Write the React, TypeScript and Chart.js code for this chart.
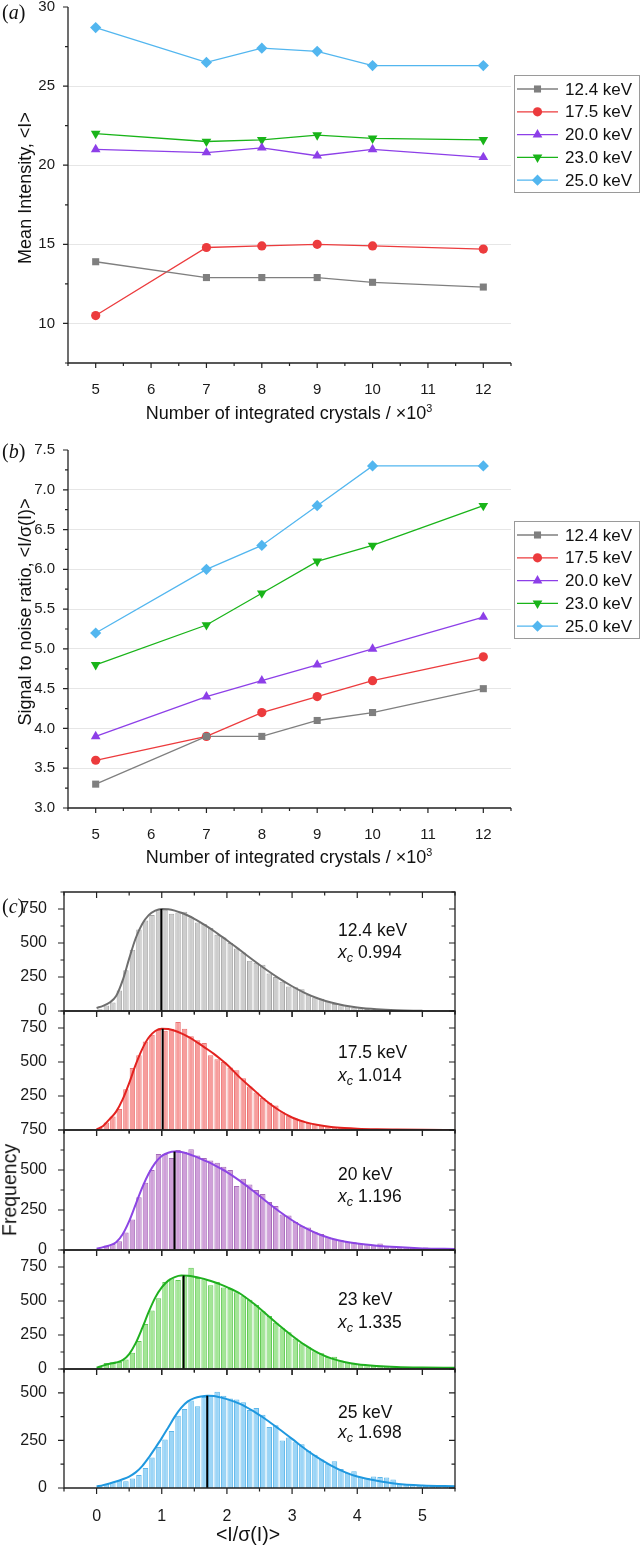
import React, { useEffect, useRef } from 'react';
import { Chart, registerables } from 'chart.js';

Chart.register(...registerables);

const SANS = "'Liberation Sans', Arial, Helvetica, sans-serif";
const SERIF = "'Liberation Serif', 'Times New Roman', Times, serif";
Chart.defaults.font.family = SANS;

// ================= Panels (a) and (b) =================
const CRYSTALS = [5, 7, 8, 9, 10, 12];
const X_TICKS = [5, 6, 7, 8, 9, 10, 11, 12];
const ENERGY_LABELS = ['12.4 keV', '17.5 keV', '20.0 keV', '23.0 keV', '25.0 keV'];

const MEAN_I_124 = [13.9, 12.9, 12.9, 12.9, 12.6, 12.3];
const MEAN_I_175 = [10.5, 14.8, 14.9, 15.0, 14.9, 14.7];
const MEAN_I_200 = [21.0, 20.8, 21.1, 20.6, 21.0, 20.5];
const MEAN_I_230 = [22.0, 21.5, 21.6, 21.9, 21.7, 21.6];
const MEAN_I_250 = [28.7, 26.5, 27.4, 27.2, 26.3, 26.3];

const SNR_124 = [3.3, 3.9, 3.9, 4.1, 4.2, 4.5];
const SNR_175 = [3.6, 3.9, 4.2, 4.4, 4.6, 4.9];
const SNR_200 = [3.9, 4.4, 4.6, 4.8, 5.0, 5.4];
const SNR_230 = [4.8, 5.3, 5.7, 6.1, 6.3, 6.8];
const SNR_250 = [5.2, 6.0, 6.3, 6.8, 7.3, 7.3];

const Y_TICKS_A = [10, 15, 20, 25, 30];
const Y_TICKS_B = [3.0, 3.5, 4.0, 4.5, 5.0, 5.5, 6.0, 6.5, 7.0, 7.5];

const SERIES_COLORS = ['#7f7f7f', '#ec3b3d', '#8d3fe8', '#19b419', '#52b6ef'];
const SERIES_POINTS = ['rect', 'circle', 'triangle', 'triangle', 'rectRot'];
const SERIES_ROT = [0, 0, 0, 180, 0];
const SERIES_RADIUS = [5, 4.6, 5.6, 5.6, 5.6];

// ================= Panel (c) histograms =================
const HIST_LABELS = ['12.4 keV', '17.5 keV', '20 keV', '23 keV', '25 keV'];
const XC = [0.994, 1.014, 1.196, 1.335, 1.698];
const XC_TOP = [750, 745, 615, 687, 485];
const HIST_X_TICKS = [0, 1, 2, 3, 4, 5];
const HIST_Y_MAJOR = [0, 250, 500, 750];
const HIST_Y_LABELS = [
  [0, 250, 500, 750],
  [250, 500, 750],
  [0, 250, 500, 750],
  [0, 250, 500, 750],
  [0, 250, 500],
];
const HIST_Y_MAX = [875, 875, 750, 875, 625];

const BIN_CENTERS = [
  0.05, 0.15, 0.25, 0.35, 0.45, 0.55, 0.65, 0.75, 0.85, 0.95,
  1.05, 1.15, 1.25, 1.35, 1.45, 1.55, 1.65, 1.75, 1.85, 1.95,
  2.05, 2.15, 2.25, 2.35, 2.45, 2.55, 2.65, 2.75, 2.85, 2.95,
  3.05, 3.15, 3.25, 3.35, 3.45, 3.55, 3.65, 3.75, 3.85, 3.95,
  4.05, 4.15, 4.25, 4.35, 4.45, 4.55, 4.65, 4.75, 4.85, 4.95,
  5.05, 5.15, 5.25, 5.35, 5.45,
];

const FREQ_124 = [
  12, 40, 62, 150, 300, 450, 600, 665, 705, 740,
  745, 715, 725, 730, 690, 650, 640, 610, 560, 540,
  500, 460, 430, 370, 355, 340, 275, 250, 215, 180,
  175, 160, 120, 100, 90, 70, 52, 42, 35, 25,
  20, 15, 10, 8, 5, 3, 2, 2, 1, 1,
  0, 0, 0, 0, 0,
];
const FREQ_175 = [
  15, 55, 100, 155, 300, 455, 550, 650, 700, 735,
  730, 745, 795, 745, 690, 660, 640, 550, 520, 500,
  460, 440, 380, 320, 275, 235, 200, 180, 130, 105,
  85, 70, 52, 40, 34, 26, 20, 16, 12, 10,
  8, 7, 6, 5, 4, 3, 3, 2, 2, 1,
  1, 1, 0, 0, 0,
];
const FREQ_200 = [
  10, 28, 38, 55, 110, 190, 330, 420, 500, 600,
  600, 575, 625, 612, 630, 590, 575, 560, 545, 520,
  500, 400, 445, 410, 375, 350, 300, 275, 222, 215,
  175, 150, 140, 112, 100, 80, 70, 62, 52, 48,
  40, 36, 32, 40, 25, 22, 20, 16, 14, 12,
  15, 9, 7, 6, 5,
];
const FREQ_230 = [
  15, 45, 50, 52, 70, 120, 205, 330, 430, 520,
  640, 665, 655, 680, 745, 670, 660, 615, 640, 600,
  590, 565, 535, 510, 470, 425, 390, 340, 300, 270,
  225, 190, 160, 130, 115, 88, 90, 62, 50, 40,
  35, 28, 25, 20, 22, 18, 15, 12, 14, 10,
  10, 8, 8, 7, 6,
];
const FREQ_250 = [
  12, 21, 30, 38, 35, 50, 68, 105, 160, 215,
  255, 300, 380, 415, 460, 430, 478, 490, 505, 485,
  470, 465, 450, 410, 420, 385, 320, 330, 250, 265,
  240, 230, 195, 175, 150, 128, 140, 100, 80, 88,
  57, 52, 60, 58, 55, 45, 22, 18, 15, 12,
  12, 10, 10, 10, 8,
];

const FIT_X = [
  0, 0.1, 0.2, 0.3, 0.4, 0.5, 0.6, 0.7, 0.8, 0.9,
  1.0, 1.1, 1.2, 1.3, 1.4, 1.5, 1.6, 1.7, 1.8, 1.9,
  2.0, 2.2, 2.4, 2.6, 2.8,
  3.0, 3.2, 3.4, 3.6, 3.8,
  4.0, 4.3, 4.6, 5.0, 5.5,
];
const FIT_124 = [
  22, 38, 62, 110, 225, 385, 535, 640, 705, 738,
  750, 748, 738, 722, 702, 678, 650, 620, 588, 554,
  520, 448, 375, 305, 240,
  182, 132, 92, 62, 40,
  25, 12, 5, 1, null,
];
const FIT_175 = [
  5, 30, 80, 135, 225, 345, 480, 595, 680, 728,
  745, 742, 730, 710, 686, 658, 626, 594, 560, 522,
  482, 385, 300, 215, 145,
  92, 58, 36, 22, 14,
  9, 5, 3, 1, 0,
];
const FIT_200 = [
  8, 18, 29, 48, 98, 180, 285, 390, 478, 545,
  588, 608, 615, 613, 602, 587, 570, 552, 532, 510,
  487, 432, 370, 305, 242,
  186, 138, 100, 72, 53,
  40, 27, 18, 10, 6,
];
const FIT_230 = [
  10, 25, 38, 48, 65, 110, 190, 300, 420, 525,
  600, 650, 676, 687, 686, 679, 668, 655, 640, 622,
  602, 555, 485, 405, 322,
  245, 175, 118, 78, 52,
  35, 22, 15, 11, 9,
];
const FIT_250 = [
  8, 15, 24, 34, 46, 60, 82, 115, 160, 210,
  262, 318, 375, 422, 455, 472, 481, 485, 483, 476,
  467, 442, 405, 360, 310,
  258, 205, 158, 118, 85,
  60, 38, 22, 13, 9,
];

const HIST_FREQ = [FREQ_124, FREQ_175, FREQ_200, FREQ_230, FREQ_250];
const HIST_FIT = [FIT_124, FIT_175, FIT_200, FIT_230, FIT_250];
const HIST_FILL = ['#cdcdcd', '#f79d9c', '#cf9fd9', '#a3e696', '#9bd5f7'];
const HIST_EDGE = ['#a6a6a6', '#ec7372', '#a66bb9', '#62c955', '#5db7ea'];
const HIST_LINE = ['#6e6e6e', '#e3221f', '#8c45e4', '#1fb01f', '#1f98df'];

// layout of histogram panels (page y of plot top / bottom)
const HIST_TOP = [892, 1011, 1130, 1250, 1369];
const HIST_BOTTOM = [1011, 1130, 1250, 1369, 1488];
const ANNOT_Y1 = [931, 1053, 1175, 1300, 1413];
const ANNOT_Y2 = [953, 1076, 1197, 1323, 1433];

// ================= helpers =================
function tickMarks(majors: number[], half: number, lo: number, hi: number) {
  const out: { v: number; major: boolean }[] = [];
  for (let v = lo; v <= hi + 1e-9; v += half) {
    out.push({ v, major: majors.some((m) => Math.abs(m - v) < 1e-6) });
  }
  return out;
}

function drawMarker(ctx: CanvasRenderingContext2D, style: string, x: number, y: number, r: number, rot: number, color: string) {
  ctx.save();
  ctx.fillStyle = color;
  ctx.translate(x, y);
  ctx.rotate((rot * Math.PI) / 180);
  ctx.beginPath();
  if (style === 'rect') {
    const s = r * Math.SQRT1_2;
    ctx.rect(-s, -s, 2 * s, 2 * s);
  } else if (style === 'circle') {
    ctx.arc(0, 0, r, 0, Math.PI * 2);
  } else if (style === 'triangle') {
    for (let k = 0; k < 3; k++) {
      const a = (k * 2 * Math.PI) / 3;
      const px = Math.sin(a) * r;
      const py = -Math.cos(a) * r;
      if (k === 0) ctx.moveTo(px, py);
      else ctx.lineTo(px, py);
    }
    ctx.closePath();
  } else {
    ctx.moveTo(0, -r);
    ctx.lineTo(r, 0);
    ctx.lineTo(0, r);
    ctx.lineTo(-r, 0);
    ctx.closePath();
  }
  ctx.fill();
  ctx.restore();
}

const frameTicks = {
  id: 'frameTicks',
  afterDraw(chart: any, _args: any, o: any) {
    const { ctx, chartArea: a } = chart;
    const xs = chart.scales.x;
    const ys = chart.scales.y;
    ctx.save();
    ctx.strokeStyle = '#222';
    ctx.lineWidth = 1.3;
    ctx.beginPath();
    if (o.box) {
      ctx.rect(a.left, a.top, a.right - a.left, a.bottom - a.top);
    } else {
      ctx.moveTo(a.left, a.top);
      ctx.lineTo(a.left, a.bottom);
      ctx.lineTo(a.right, a.bottom);
    }
    ctx.stroke();
    ctx.lineWidth = 1.2;
    ctx.beginPath();
    for (const t of o.xTicks) {
      const px = xs.getPixelForValue(t.v);
      const len = t.major ? o.majorLen : o.minorLen;
      ctx.moveTo(px, a.bottom);
      ctx.lineTo(px, a.bottom + len);
      if (o.box) {
        ctx.moveTo(px, a.top);
        ctx.lineTo(px, a.top + len);
      }
    }
    for (const t of o.yTicks) {
      const py = ys.getPixelForValue(t.v);
      const len = t.major ? o.majorLen : o.minorLen;
      ctx.moveTo(a.left, py);
      ctx.lineTo(a.left - len, py);
      if (o.box) {
        ctx.moveTo(a.right, py);
        ctx.lineTo(a.right - len, py);
      }
    }
    ctx.stroke();
    ctx.restore();
  },
};

const boxLegend = {
  id: 'boxLegend',
  afterDraw(chart: any, _args: any, o: any) {
    const { ctx } = chart;
    ctx.save();
    ctx.strokeStyle = '#9a9a9a';
    ctx.lineWidth = 1;
    ctx.strokeRect(o.left + 0.5, o.top + 0.5, o.width, o.height);
    chart.data.datasets.forEach((ds: any, i: number) => {
      const y = o.top + o.firstRow + i * o.rowGap;
      ctx.strokeStyle = ds.borderColor;
      ctx.lineWidth = 1.3;
      ctx.beginPath();
      ctx.moveTo(o.left + 3, y);
      ctx.lineTo(o.left + 44, y);
      ctx.stroke();
      drawMarker(ctx, ds.pointStyle, o.left + 23.5, y, ds.pointRadius, ds.pointRotation, ds.pointBackgroundColor);
      ctx.fillStyle = '#111';
      ctx.font = `17px ${SANS}`;
      ctx.textBaseline = 'middle';
      ctx.textAlign = 'left';
      ctx.fillText(ds.label, o.left + 51, y + 1);
    });
    ctx.restore();
  },
};

function lineConfig(series: number[][], yMin: number, yMax: number, yTicks: number[], fmt: (v: number) => string, topPad: number, xHeight: number, legendTop: number, yHalf: number): any {
  return {
    type: 'line',
    data: {
      datasets: series.map((vals, i) => ({
        label: ENERGY_LABELS[i],
        data: CRYSTALS.map((x, j) => ({ x, y: vals[j] })),
        borderColor: SERIES_COLORS[i],
        backgroundColor: SERIES_COLORS[i],
        borderWidth: 1.3,
        pointStyle: SERIES_POINTS[i],
        pointRadius: SERIES_RADIUS[i],
        pointRotation: SERIES_ROT[i],
        pointBackgroundColor: SERIES_COLORS[i],
        pointBorderColor: SERIES_COLORS[i],
        pointBorderWidth: 0,
        tension: 0,
        clip: false,
      })),
    },
    options: {
      animation: false,
      responsive: false,
      events: [],
      layout: { padding: { left: 0, right: 129, top: topPad, bottom: 0 } },
      plugins: {
        legend: { display: false },
        tooltip: { enabled: false },
        frameTicks: {
          box: false,
          majorLen: 5,
          minorLen: 3,
          xTicks: tickMarks(X_TICKS, 0.5, 4.5, 12.5),
          yTicks: tickMarks(yTicks, yHalf, yMin, yMax),
        },
        boxLegend: { left: 514, top: legendTop, width: 125, height: 117, firstRow: 14, rowGap: 22.8 },
      },
      scales: {
        x: {
          type: 'linear',
          min: 4.5,
          max: 12.5,
          afterBuildTicks: (s: any) => {
            s.ticks = X_TICKS.map((v) => ({ value: v }));
          },
          afterFit: (s: any) => {
            s.height = xHeight;
            s.paddingLeft = 0;
            s.paddingRight = 0;
          },
          grid: { display: false },
          border: { display: false },
          ticks: { padding: 10, autoSkip: false, maxRotation: 0, color: '#1a1a1a', font: { size: 15 } },
        },
        y: {
          type: 'linear',
          min: yMin,
          max: yMax,
          afterBuildTicks: (s: any) => {
            s.ticks = yTicks.map((v) => ({ value: v }));
          },
          afterFit: (s: any) => {
            s.width = 68;
            s.paddingTop = 0;
            s.paddingBottom = 0;
          },
          grid: {
            drawTicks: false,
            lineWidth: 1,
            color: (c: any) =>
              c.tick && (c.tick.value <= yMin + 1e-9 || c.tick.value >= yMax - 1e-9) ? 'rgba(0,0,0,0)' : '#e6e6e6',
          },
          border: { display: false },
          ticks: { padding: 13, autoSkip: false, color: '#1a1a1a', font: { size: 15 }, callback: (v: number) => fmt(v) },
        },
      },
    },
    plugins: [frameTicks, boxLegend],
  };
}

function histConfig(i: number): any {
  const isLast = i === 4;
  return {
    type: 'bar',
    data: {
      datasets: [
        {
          type: 'line',
          data: [
            { x: XC[i], y: 0 },
            { x: XC[i], y: XC_TOP[i] },
          ],
          borderColor: '#000',
          borderWidth: 2,
          pointRadius: 0,
          order: 1,
        },
        {
          type: 'line',
          data: FIT_X.map((x, j) => ({ x, y: HIST_FIT[i][j] })),
          borderColor: HIST_LINE[i],
          borderWidth: 2,
          pointRadius: 0,
          cubicInterpolationMode: 'monotone',
          spanGaps: false,
          order: 2,
        },
        {
          type: 'bar',
          data: BIN_CENTERS.map((x, j) => ({ x, y: HIST_FREQ[i][j] })),
          backgroundColor: HIST_FILL[i],
          borderColor: HIST_EDGE[i],
          borderWidth: 1,
          borderSkipped: 'start',
          barPercentage: 0.84,
          categoryPercentage: 1,
          order: 3,
        },
      ],
    },
    options: {
      animation: false,
      responsive: false,
      events: [],
      layout: { padding: { left: 0, right: 15, top: 12, bottom: isLast ? 0 : 12 } },
      plugins: {
        legend: { display: false },
        tooltip: { enabled: false },
        frameTicks: {
          box: true,
          majorLen: 6,
          minorLen: 3.5,
          xTicks: tickMarks(HIST_X_TICKS, 0.5, -0.5, 5.5),
          yTicks: tickMarks(HIST_Y_MAJOR, 125, 0, HIST_Y_MAX[i]),
        },
      },
      scales: {
        x: {
          type: 'linear',
          min: -0.5,
          max: 5.5,
          offset: false,
          display: isLast,
          afterBuildTicks: (s: any) => {
            s.ticks = HIST_X_TICKS.map((v) => ({ value: v }));
          },
          afterFit: (s: any) => {
            s.height = isLast ? 42 : 0;
            s.paddingLeft = 0;
            s.paddingRight = 0;
          },
          grid: { display: false, offset: false },
          border: { display: false },
          ticks: { padding: 11, autoSkip: false, maxRotation: 0, color: '#1a1a1a', font: { size: 16 } },
        },
        y: {
          type: 'linear',
          min: 0,
          max: HIST_Y_MAX[i],
          afterBuildTicks: (s: any) => {
            s.ticks = HIST_Y_LABELS[i].map((v) => ({ value: v }));
          },
          afterFit: (s: any) => {
            s.width = 64;
            s.paddingTop = 0;
            s.paddingBottom = 0;
          },
          grid: { display: false },
          border: { display: false },
          ticks: { padding: 9, autoSkip: false, color: '#1a1a1a', font: { size: 16 } },
        },
      },
    },
    plugins: [frameTicks],
  };
}

function ChartCanvas({ make, left, top, width, height }: { make: () => any; left: number; top: number; width: number; height: number }) {
  const ref = useRef<HTMLCanvasElement | null>(null);
  useEffect(() => {
    const chart = new Chart(ref.current as HTMLCanvasElement, make());
    return () => chart.destroy();
  }, []);
  return (
    <canvas
      ref={ref}
      width={width}
      height={height}
      style={{ position: 'absolute', left, top, width, height }}
    />
  );
}

function Txt({ x, y, size, children, rotate = false, family = SANS, align = 'center' }: any) {
  const style: any = {
    position: 'absolute',
    left: x,
    top: y,
    fontSize: size,
    fontFamily: family,
    lineHeight: 1,
    whiteSpace: 'nowrap',
    color: '#111',
  };
  if (rotate) style.transform = 'translate(-50%, -50%) rotate(-90deg)';
  else if (align === 'center') style.transform = 'translate(-50%, -50%)';
  else style.transform = 'translateY(-50%)';
  return <div style={style}>{children}</div>;
}

const SUP: any = { fontSize: '0.6em', verticalAlign: 'super', lineHeight: 0 };
const SUB: any = { fontSize: '0.72em', verticalAlign: '-0.3em', lineHeight: 0 };

export default function App() {
  const histCanvases = [0, 1, 2, 3, 4].map((i) => {
    const top = HIST_TOP[i] - 12;
    const height = i === 4 ? 12 + (HIST_BOTTOM[i] - HIST_TOP[i]) + 42 : HIST_BOTTOM[i] - HIST_TOP[i] + 24;
    return <ChartCanvas key={'h' + i} make={() => histConfig(i)} left={0} top={top} width={470} height={height} />;
  });
  return (
    <div
      style={{
        position: 'absolute',
        left: 0,
        top: 0,
        width: 640,
        height: 1546,
        background: '#fff',
        overflow: 'hidden',
        fontFamily: SANS,
      }}
    >
      <ChartCanvas
        make={() =>
          lineConfig([MEAN_I_124, MEAN_I_175, MEAN_I_200, MEAN_I_230, MEAN_I_250], 7.5, 30, Y_TICKS_A, (v) => String(v), 7, 77, 75, 2.5)
        }
        left={0}
        top={0}
        width={640}
        height={440}
      />
      <ChartCanvas
        make={() =>
          lineConfig([SNR_124, SNR_175, SNR_200, SNR_230, SNR_250], 3.0, 7.5, Y_TICKS_B, (v) => v.toFixed(1), 10, 72, 81, 0.25)
        }
        left={0}
        top={440}
        width={640}
        height={440}
      />
      {histCanvases}

      <Txt x={2} y={12} size={20} family={SERIF} align="left">
        (<i>a</i>)
      </Txt>
      <Txt x={2} y={451} size={20} family={SERIF} align="left">
        (<i>b</i>)
      </Txt>
      <Txt x={2} y={906} size={20} family={SERIF} align="left">
        (<i>c</i>)
      </Txt>

      <Txt x={25} y={188} size={18} rotate>
        {'Mean Intensity, <I>'}
      </Txt>
      <Txt x={289} y={413} size={18}>
        Number of integrated crystals / ×10<sup style={SUP}>3</sup>
      </Txt>
      <Txt x={25} y={612} size={18} rotate>
        {'Signal to noise ratio, <I/σ(I)>'}
      </Txt>
      <Txt x={289} y={857} size={18}>
        Number of integrated crystals / ×10<sup style={SUP}>3</sup>
      </Txt>

      <Txt x={10} y={1190} size={19.5} rotate>
        Frequency
      </Txt>
      <Txt x={248} y={1535} size={19.5}>
        {'<I/σ(I)>'}
      </Txt>

      {HIST_LABELS.map((lab, i) => (
        <React.Fragment key={'t' + i}>
          <Txt x={338} y={ANNOT_Y1[i]} size={17.5} align="left">
            {lab}
          </Txt>
          <Txt x={338} y={ANNOT_Y2[i]} size={17.5} align="left">
            <i>x</i>
            <sub style={SUB}>
              <i>c</i>
            </sub>
            {' ' + XC[i].toFixed(3)}
          </Txt>
        </React.Fragment>
      ))}
    </div>
  );
}
